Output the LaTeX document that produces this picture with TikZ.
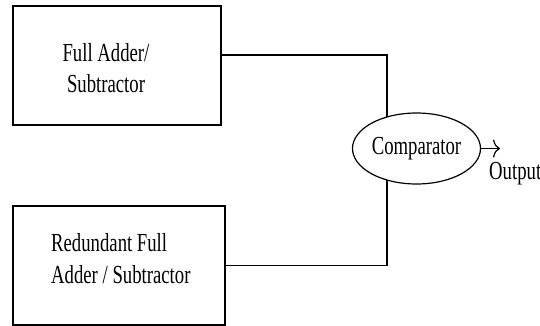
\documentclass[tikz,border=0pt]{standalone}
\usepackage{fontspec}
\newfontfamily\diagfont[FakeStretch=0.72]{Liberation Serif}
\usepackage{tikz}
\usetikzlibrary{positioning,backgrounds,shapes,arrows.meta}

\tikzset{
  block/.style={draw, line width=1.2pt, fill=white, inner sep=0pt},
  txt/.style={font=\diagfont\fontsize{26}{32}\selectfont, inner sep=0pt},
  wire/.style={line width=1.2pt}
}

\begin{document}
\begin{tikzpicture}[x=1pt,y=-1pt]
\useasboundingbox (0,0) rectangle (540,326);
% blocks
\node[block, minimum width=208pt, minimum height=119pt] (fas) at (117,65.5) {};
\node[block, minimum width=212pt, minimum height=119pt] (rfas) at (119,265.5) {};
\node[txt, align=center, anchor=base] (fastxt) at (106,93) {Full Adder/\\Subtractor};
\node[txt, align=left, anchor=base west] (rfastxt) at (51,283) {Redundant Full\\Adder / Subtractor};
% comparator
\node[block, txt, ellipse, draw, line width=1.2pt, minimum width=128pt, minimum height=71pt] (cmp) at (416.5,148.5) {Comparator};
\coordinate (j) at (387,55);
\coordinate (out) at (500,148.5);
\node[txt, anchor=base west] (outtxt) at (489,179) {Output};
% wires
\begin{scope}[on background layer]
\draw[wire] (fas.east |- j) -- (j) -- (j |- cmp.center);
\draw[wire] (rfas.east) -- (rfas.east -| j) -- (j |- cmp.center);
\end{scope}
\draw[wire, -{To[length=7pt,width=18pt]}] (cmp.east) -- (out);
\end{tikzpicture}
\end{document}
